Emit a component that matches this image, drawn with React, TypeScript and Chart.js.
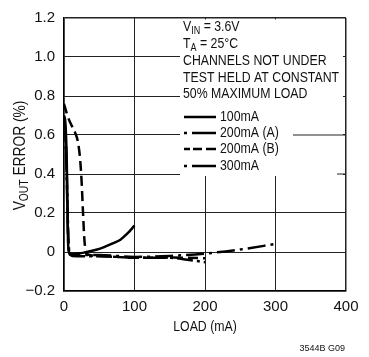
import React, { useEffect, useRef } from 'react';
import { Chart, registerables } from 'chart.js';

Chart.register(...registerables);

const FONT = '"Liberation Sans Narrow", "Liberation Sans", Arial, sans-serif';

// ---- data ----
const seriesLabels = ['100mA', '200mA (A)', '200mA (B)', '300mA'];

const load100 = [0, 2, 4, 5, 6, 8, 12, 20, 30, 40, 50, 60, 70, 80, 90, 100];
const err100 = [0.70, 0.66, 0.45, 0.2, 0.03, -0.005, -0.01, -0.008, -0.002, 0.006, 0.016, 0.03, 0.045, 0.063, 0.095, 0.135];

const load200A = [0, 2, 4, 6, 8, 12, 25, 50, 75, 100, 125, 150, 175, 200];
const err200A = [0.68, 0.62, 0.4, 0.1, -0.01, -0.02, -0.022, -0.022, -0.025, -0.03, -0.03, -0.03, -0.04, -0.052];

const load200B = [0, 4, 8, 12, 16, 20, 23, 25, 27, 29, 32, 50, 75, 100, 125, 150, 175, 200];
const err200B = [0.76, 0.71, 0.67, 0.64, 0.61, 0.56, 0.47, 0.36, 0.2, 0.06, -0.01, -0.02, -0.025, -0.03, -0.03, -0.028, -0.03, -0.032];

const load300 = [0, 2, 4, 6, 8, 12, 25, 50, 100, 150, 200, 250, 300];
const err300 = [0.66, 0.6, 0.35, 0.05, -0.012, -0.015, -0.015, -0.015, -0.025, -0.02, -0.008, 0.013, 0.041];

const xTickValues = [0, 100, 200, 300, 400];
const yTickValues = [-0.2, 0, 0.2, 0.4, 0.6, 0.8, 1.0, 1.2];
const yTickLabels = ['\u22120.2', '0', '0.2', '0.4', '0.6', '0.8', '1.0', '1.2'];

const xTitle = 'LOAD (mA)';
const yTitleParts = [{ t: 'V' }, { t: 'OUT', sub: true }, { t: ' ERROR (%)' }];
const noteLines = [
  [{ t: 'V' }, { t: 'IN', sub: true }, { t: ' = 3.6V' }],
  [{ t: 'T' }, { t: 'A', sub: true }, { t: ' = 25\u00B0C' }],
  [{ t: 'CHANNELS NOT UNDER' }],
  [{ t: 'TEST HELD AT CONSTANT' }],
  [{ t: '50% MAXIMUM LOAD' }],
];
const footer = '3544B G09';

const dashes: number[][] = [[], [16, 4, 3, 4], [10, 5], [18, 5, 3, 5]];
const legendDashes: number[][] = [[], [3, 5, 40, 0], [6, 3, 9, 4, 12, 0], [3, 5, 40, 0]];

const zip = (xs: number[], ys: number[]) => xs.map((x, i) => ({ x, y: ys[i] }));

type Part = { t: string; sub?: boolean };
type Style = { size: number; sub: number; sx: number; dy: number };

const NOTE: Style = { size: 15, sub: 11, sx: 0.82, dy: 3 };
const TITLE: Style = { size: 16, sub: 12, sx: 0.86, dy: 3 };

function richWidth(ctx: CanvasRenderingContext2D, parts: Part[], s: Style) {
  let w = 0;
  for (const p of parts) {
    ctx.font = `${p.sub ? s.sub : s.size}px ${FONT}`;
    w += ctx.measureText(p.t).width;
  }
  return w * s.sx;
}

function drawRich(ctx: CanvasRenderingContext2D, parts: Part[], x: number, y: number, s: Style) {
  ctx.save();
  ctx.translate(x, y);
  ctx.scale(s.sx, 1);
  let cx = 0;
  for (const p of parts) {
    ctx.font = `${p.sub ? s.sub : s.size}px ${FONT}`;
    ctx.fillText(p.t, cx, p.sub ? s.dy : 0);
    cx += ctx.measureText(p.t).width;
  }
  ctx.restore();
}

const annotPlugin = {
  id: 'annot',
  beforeDatasetsDraw(chart: any) {
    const { ctx, chartArea: a, scales } = chart;
    const y = scales.y;
    ctx.save();
    ctx.fillStyle = '#fff';
    ctx.fillRect(180, a.top + 1.5, a.right - 3 - 180, 176 - a.top - 1.5);
    ctx.strokeStyle = '#222';
    ctx.lineWidth = 1;
    const y6 = y.getPixelForValue(0.6);
    ctx.beginPath();
    ctx.moveTo(293, y6);
    ctx.lineTo(a.right, y6);
    const y4 = y.getPixelForValue(0.4);
    ctx.moveTo(337, y4);
    ctx.lineTo(a.right, y4);
    ctx.stroke();
    ctx.restore();
  },
  afterDraw(chart: any) {
    const { ctx, chartArea: a } = chart;
    ctx.save();
    ctx.fillStyle = '#111';
    ctx.textBaseline = 'alphabetic';
    ctx.textAlign = 'left';
    const baselines = [31, 48, 65, 82, 98];
    noteLines.forEach((parts, i) => drawRich(ctx, parts, 183, baselines[i], NOTE));

    // legend
    const legY = [117, 133, 149, 166];
    const legBase = [121, 137, 153, 170];
    chart.data.datasets.forEach((ds: any, i: number) => {
      ctx.save();
      ctx.strokeStyle = '#000';
      ctx.lineWidth = 2.5;
      ctx.setLineDash(legendDashes[i]);
      ctx.beginPath();
      ctx.moveTo(184, legY[i]);
      ctx.lineTo(216, legY[i]);
      ctx.stroke();
      ctx.restore();
      drawRich(ctx, [{ t: ds.label }], 220, legBase[i], NOTE);
    });

    // x title
    const xw = richWidth(ctx, [{ t: xTitle }], NOTE);
    drawRich(ctx, [{ t: xTitle }], (a.left + a.right) / 2 - xw / 2, 331, NOTE);

    // y title (rotated, with subscript)
    ctx.save();
    const w = richWidth(ctx, yTitleParts, TITLE);
    ctx.translate(24.5, 155.5);
    ctx.rotate(-Math.PI / 2);
    drawRich(ctx, yTitleParts, -w / 2, 0, TITLE);
    ctx.restore();

    // footer
    ctx.font = `9px "Liberation Sans", Arial, sans-serif`;
    ctx.textAlign = 'right';
    ctx.fillText(footer, 345, 351);
    ctx.restore();
  },
};

export default function App() {
  const ref = useRef<HTMLCanvasElement>(null);
  useEffect(() => {
    if (!ref.current) return;
    const gridColor = '#222';
    const chart = new Chart(ref.current, {
      type: 'line',
      data: {
        datasets: [
          { label: seriesLabels[0], data: zip(load100, err100) },
          { label: seriesLabels[1], data: zip(load200A, err200A) },
          { label: seriesLabels[2], data: zip(load200B, err200B) },
          { label: seriesLabels[3], data: zip(load300, err300) },
        ].map((d, i) => ({
          ...d,
          borderColor: '#000',
          borderWidth: 2.5,
          borderDash: dashes[i],
          pointRadius: 0,
          fill: false,
          tension: 0,
          cubicInterpolationMode: 'monotone' as const,
        })),
      },
      options: {
        responsive: false,
        animation: false,
        devicePixelRatio: 1,
        layout: { padding: { top: 9, right: 23, left: 0, bottom: 0 } },
        plugins: { legend: { display: false }, tooltip: { enabled: false } },
        scales: {
          x: {
            type: 'linear',
            min: 0,
            max: 400,
            afterFit: (s: any) => { s.height = 66; },
            afterBuildTicks: (s: any) => { s.ticks = xTickValues.map((v) => ({ value: v })); },
            ticks: {
              color: '#111',
              padding: 7,
              font: { family: FONT, size: 15 },
              callback: (v: any) => String(v),
            },
            grid: {
              color: gridColor,
              lineWidth: (c: any) => (c.tick && (c.tick.value === 0 || c.tick.value === 400) ? 1.5 : 1),
              drawTicks: false,
            },
            border: { display: true, color: '#000', width: 1.5 },
            title: { display: false, text: xTitle },
          },
          y: {
            type: 'linear',
            min: -0.2,
            max: 1.2,
            afterFit: (s: any) => { s.width = 64; },
            afterBuildTicks: (s: any) => { s.ticks = yTickValues.map((v) => ({ value: v })); },
            ticks: {
              color: '#111',
              padding: 9,
              font: { family: FONT, size: 15 },
              callback: (v: any, i: number) => yTickLabels[i],
            },
            grid: {
              color: gridColor,
              lineWidth: (c: any) => (c.tick && (Math.abs(c.tick.value - 1.2) < 1e-6 || Math.abs(c.tick.value + 0.2) < 1e-6) ? 1.5 : 1),
              drawTicks: false,
            },
            border: { display: true, color: '#000', width: 1.5 },
          },
        },
      },
      plugins: [annotPlugin],
    });
    return () => chart.destroy();
  }, []);
  return (
    <div style={{ position: 'fixed', left: 0, top: 0, width: 369, height: 357, background: '#fff' }}>
      <canvas ref={ref} width={369} height={357} style={{ width: 369, height: 357, display: 'block' }} />
    </div>
  );
}
